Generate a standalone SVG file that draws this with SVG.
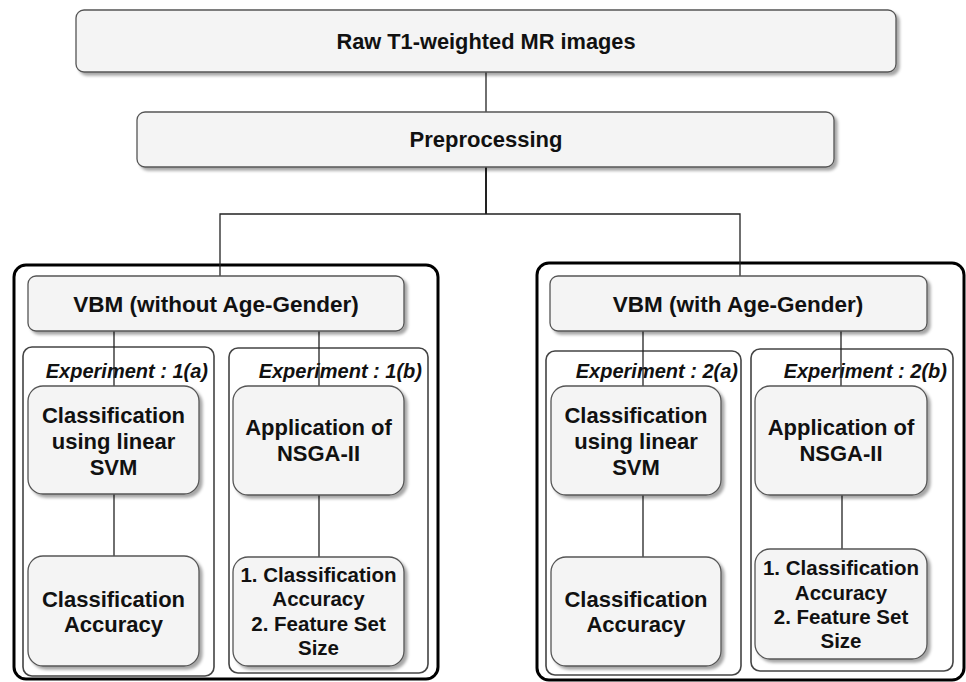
<svg xmlns="http://www.w3.org/2000/svg" width="966" height="682" viewBox="0 0 966 682">
<defs>
<filter id="sh" x="-10%" y="-10%" width="130%" height="140%">
<feGaussianBlur in="SourceAlpha" stdDeviation="1.5"/>
<feOffset dx="3" dy="3" result="b"/>
<feFlood flood-color="#000" flood-opacity="0.35"/>
<feComposite in2="b" operator="in"/>
<feMerge><feMergeNode/><feMergeNode in="SourceGraphic"/></feMerge>
</filter>
<style>
.node{fill:#f4f4f4;stroke:#555;stroke-width:1.3;filter:url(#sh)}
.outer{fill:#fff;stroke:#000;stroke-width:3}
.exp{fill:#fff;stroke:#444;stroke-width:1.6}
.t{font-family:"Liberation Sans",Arial,sans-serif;font-weight:bold;font-size:22px;fill:#111;text-anchor:middle}
.r{font-size:20.5px}
.lab{font-family:"Liberation Sans",Arial,sans-serif;font-weight:bold;font-style:italic;font-size:20px;fill:#111;text-anchor:end}
.c{stroke:#222;stroke-width:1.3;fill:none}
</style>
</defs>
<rect width="966" height="682" fill="#fff"/>
<g id="group-left">
<rect class="outer" x="14" y="265" width="424" height="414" rx="12"/>
<rect class="exp" x="23" y="347" width="191" height="329" rx="9"/>
<rect class="exp" x="229" y="348" width="199" height="325" rx="9"/>
<text class="lab" x="208" y="378">Experiment : 1(a)</text>
<text class="lab" x="422" y="378">Experiment : 1(b)</text>
</g>
<g id="group-right">
<rect class="outer" x="537" y="263" width="427" height="417" rx="12"/>
<rect class="exp" x="546" y="351" width="195" height="324" rx="9"/>
<rect class="exp" x="751" y="349" width="202" height="322" rx="9"/>
<text class="lab" x="738" y="378">Experiment : 2(a)</text>
<text class="lab" x="947" y="378">Experiment : 2(b)</text>
</g>
<g id="connectors">
<line class="c" x1="486" y1="72" x2="486" y2="112"/>
<path class="c" style="stroke-width:2" d="M486 167V214"/>
<path class="c" d="M220 276V214H740V276"/>
<line class="c" x1="114" y1="331" x2="114" y2="386"/>
<line class="c" x1="319" y1="331" x2="319" y2="386"/>
<line class="c" x1="114" y1="494" x2="114" y2="556"/>
<line class="c" x1="319" y1="495" x2="319" y2="557"/>
<line class="c" x1="643" y1="331" x2="643" y2="386"/>
<line class="c" x1="841" y1="331" x2="841" y2="386"/>
<line class="c" x1="643" y1="495" x2="643" y2="557"/>
<line class="c" x1="842" y1="495" x2="842" y2="549"/>
</g>
<g id="raw">
<rect class="node" x="76" y="10" width="820" height="62" rx="8"/>
<text class="t" x="486" y="49" style="font-size:21.8px">Raw T1-weighted MR images</text>
</g>
<g id="preprocessing">
<rect class="node" x="137" y="112" width="697" height="55" rx="8"/>
<text class="t" x="486" y="147">Preprocessing</text>
</g>
<g id="vbm-left">
<rect class="node" x="28" y="276" width="376" height="55" rx="8"/>
<text class="t" x="216" y="312" style="font-size:22.5px">VBM (without Age-Gender)</text>
</g>
<g id="svm-1a">
<rect class="node" x="28" y="386" width="171" height="108" rx="15"/>
<text class="t" x="113.5" y="423">Classification</text>
<text class="t" x="113.5" y="449">using linear</text>
<text class="t" x="113.5" y="475">SVM</text>
</g>
<g id="acc-1a">
<rect class="node" x="28" y="556" width="171" height="110" rx="15"/>
<text class="t" x="113.5" y="607">Classification</text>
<text class="t" x="113.5" y="632">Accuracy</text>
</g>
<g id="nsga-1b">
<rect class="node" x="233" y="386" width="171" height="109" rx="15"/>
<text class="t" x="318.5" y="435">Application of</text>
<text class="t" x="318.5" y="461">NSGA-II</text>
</g>
<g id="res-1b">
<rect class="node" x="233" y="557" width="171" height="109" rx="15"/>
<text class="t r" x="318.5" y="582">1. Classification</text>
<text class="t r" x="318.5" y="606">Accuracy</text>
<text class="t r" x="318.5" y="631">2. Feature Set</text>
<text class="t r" x="318.5" y="655">Size</text>
</g>
<g id="vbm-right">
<rect class="node" x="550" y="276" width="377" height="55" rx="8"/>
<text class="t" x="738" y="312" style="font-size:22.5px">VBM (with Age-Gender)</text>
</g>
<g id="svm-2a">
<rect class="node" x="551" y="386" width="170" height="109" rx="15"/>
<text class="t" x="636" y="423">Classification</text>
<text class="t" x="636" y="449">using linear</text>
<text class="t" x="636" y="475">SVM</text>
</g>
<g id="acc-2a">
<rect class="node" x="551" y="557" width="170" height="109" rx="15"/>
<text class="t" x="636" y="607">Classification</text>
<text class="t" x="636" y="632">Accuracy</text>
</g>
<g id="nsga-2b">
<rect class="node" x="755" y="386" width="172" height="109" rx="15"/>
<text class="t" x="841" y="435">Application of</text>
<text class="t" x="841" y="461">NSGA-II</text>
</g>
<g id="res-2b">
<rect class="node" x="755" y="549" width="172" height="110" rx="15"/>
<text class="t r" x="841" y="575">1. Classification</text>
<text class="t r" x="841" y="600">Accuracy</text>
<text class="t r" x="841" y="624">2. Feature Set</text>
<text class="t r" x="841" y="648">Size</text>
</g>
</svg>
